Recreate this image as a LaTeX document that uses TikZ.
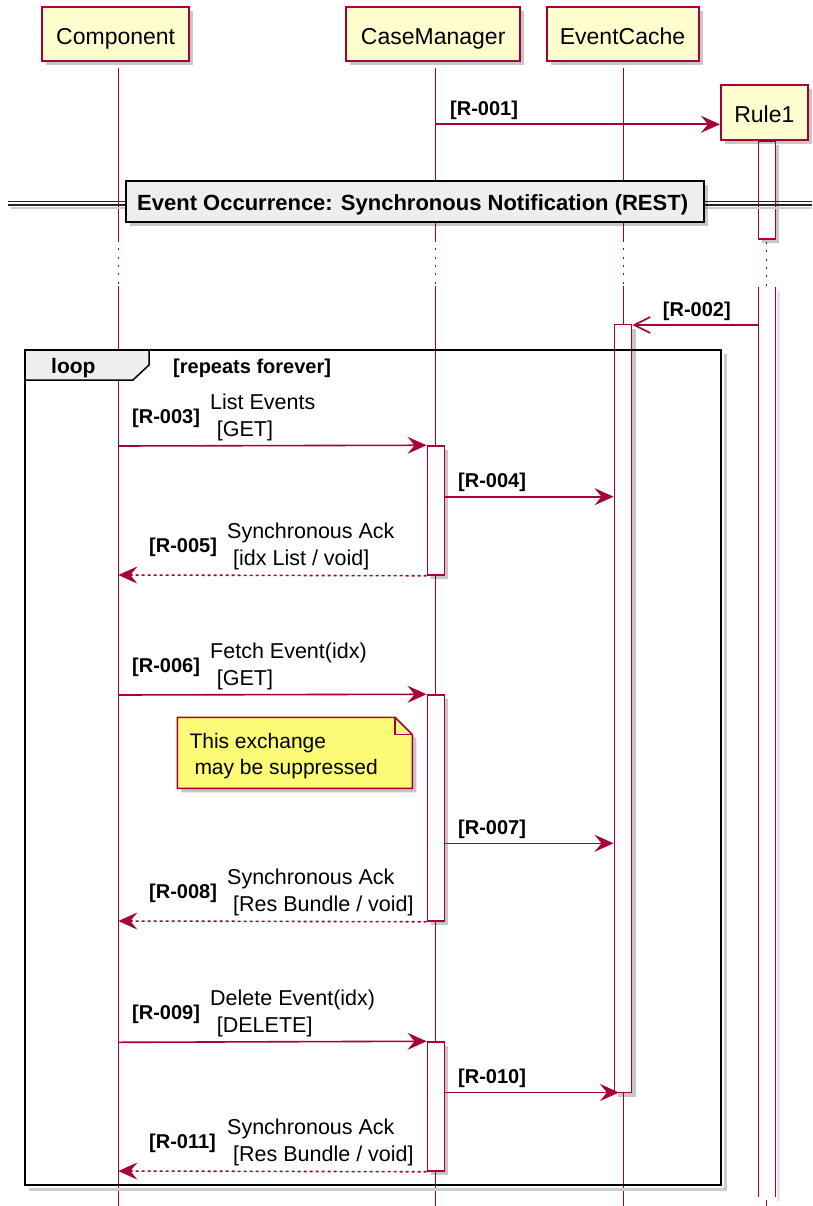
\documentclass[tikz,border=0pt]{standalone}
\usepackage{fontspec}
\setmainfont{Liberation Sans}
\usetikzlibrary{arrows.meta,shadows}
\definecolor{umlred}{HTML}{A80036}
\definecolor{partfill}{HTML}{FEFECE}
\definecolor{notefill}{HTML}{FBFB77}
\definecolor{grpfill}{HTML}{EEEEEE}
\begin{document}
\begin{tikzpicture}[x=1pt,y=-1pt,
  shd/.style={drop shadow={shadow xshift=4pt,shadow yshift=-4pt,fill=black,opacity=0.22}},
  participant/.style={draw=umlred,line width=2pt,fill=partfill,inner sep=0pt,text height=20.6pt,text depth=0pt,font=\fontsize{23}{27}\selectfont,shd},
  life/.style={draw=umlred,line width=1.4pt},
  lifedot/.style={draw=umlred,line width=1.4pt,dash pattern=on 2pt off 6.3pt},
  actbar/.style={draw=umlred,line width=1.5pt,fill=white,minimum width=17pt,inner sep=0pt,shd},
  msg/.style={draw=umlred,line width=1.6pt,-{Stealth[length=19pt,width=17pt,inset=7pt]}},
  ret/.style={msg,dash pattern=on 3pt off 3pt},
  async/.style={draw=umlred,line width=1.6pt,-{Straight Barb[length=16pt,width=16pt]}},
  rlab/.style={anchor=base west,inner sep=0pt,font=\bfseries\fontsize{20}{24}\selectfont},
  mlab/.style={anchor=base west,inner sep=0pt,font=\fontsize{21.5}{25}\selectfont},
]
\useasboundingbox (0,0) rectangle (812,1206);
\fill[white] (0,0) rectangle (812,1206);

% ---------- lifelines
\coordinate (compA) at (118.3,68);  \coordinate (compB) at (118.3,240);
\coordinate (compC) at (118.3,286); \coordinate (compD) at (118.3,1206);
\coordinate (cmA) at (435.7,68);  \coordinate (cmB) at (435.7,240);
\coordinate (cmC) at (435.7,286); \coordinate (cmD) at (435.7,1206);
\coordinate (ecA) at (623.3,68);  \coordinate (ecB) at (623.3,240);
\coordinate (ecC) at (623.3,286); \coordinate (ecD) at (623.3,1206);
\draw[life] (compA) -- (compB); \draw[lifedot] (compB) -- (compC); \draw[life] (compC) -- (compD);
\draw[life] (cmA) -- (cmB); \draw[lifedot] (cmB) -- (cmC); \draw[life] (cmC) -- (cmD);
\draw[life] (ecA) -- (ecB); \draw[lifedot] (ecB) -- (ecC); \draw[life] (ecC) -- (ecD);

% Rule1 lifeline
\node[actbar, minimum height=98pt] (rb1) at (766.8,190) {};
\coordinate (rdA) at (766.7,242); \coordinate (rdB) at (766.7,287);
\draw[lifedot] (rdA) -- (rdB);
\coordinate (rb2tl) at (758.3,287); \coordinate (rb2bl) at (758.3,1197);
\coordinate (rb2tr) at (775.3,287); \coordinate (rb2br) at (775.3,1197);
\fill[black!10] (777,291) rectangle (780,1201);
\fill[white] (rb2tl) rectangle (rb2br);
\draw[life,line width=1.5pt] (rb2tl) -- (rb2bl);
\draw[life,line width=1.5pt] (rb2tr) -- (rb2br);
\coordinate (rdC) at (766.7,1200); \coordinate (rdD) at (766.7,1206);
\draw[life] (rdC) -- (rdD);

% ---------- activation bars
\node[actbar, minimum width=17.4pt, minimum height=768pt] (ecbar) at (623,708.5) {};
\node[actbar, minimum height=129pt] (cmb1) at (435.8,510.5) {};
\node[actbar, minimum height=226pt] (cmb2) at (435.8,808) {};
\node[actbar, minimum height=129pt] (cmb3) at (435.8,1106.5) {};

% ---------- loop frame
\draw[black!20, line width=3pt] (725,354) -- (725,1189) -- (29,1189);
\filldraw[fill=grpfill, draw=black, line width=1.5pt] (25,350) -- (149,350) -- (149,365) -- (133,380) -- (25,380) -- cycle;
\draw[black, line width=2.8pt] (25,350) rectangle (721,1185);
\node[anchor=base west, inner sep=0pt, font=\bfseries\fontsize{21}{25}\selectfont] (looplab) at (51,373) {loop};
\node[anchor=base west, inner sep=0pt, font=\bfseries\fontsize{20}{24}\selectfont] (loopcond) at (173,373) {[repeats forever]};

% ---------- participants
\node[participant, minimum width=147.3pt, minimum height=53.4pt] (comp) at (115.7,34) {Component};
\node[participant, minimum width=174.3pt, minimum height=53.7pt] (cm) at (433.2,34.2) {CaseManager};
\node[participant, minimum width=152pt, minimum height=53.5pt] (ec) at (622.5,34.2) {EventCache};
\node[participant, minimum width=86.7pt, minimum height=55pt] (rule) at (764.3,112.5) {Rule1};

% ---------- messages
\coordinate (m1) at (0,124.3);
\draw[msg] (cmA |- m1) -- (rule.west |- m1);
\node[rlab] (l1) at (450,115.3) {[R-001]};

\coordinate (m2) at (0,325);
\draw[async] (rb2tl |- m2) -- (ecbar.east |- m2);
\node[rlab] (l2) at (662.7,316) {[R-002]};

\coordinate (m3) at (0,446);
\draw[msg] (compA |- m3) -- (cmb1.north west);
\node[rlab] (l3) at (132,423.5) {[R-003]};
\node[mlab] (t3a) at (210,409.5) {List Events};
\node[mlab] (t3b) at (216.7,436.5) {[GET]};

\coordinate (m4) at (0,496.7);
\draw[msg] (cmb1.east |- m4) -- (ecbar.west |- m4);
\node[rlab] (l4) at (458,487.7) {[R-004]};

\coordinate (m5) at (0,575);
\draw[ret] (cmb1.south west) -- (compA |- m5);
\node[rlab] (l5) at (149,552.5) {[R-005]};
\node[mlab] (t5a) at (227,538.5) {Synchronous Ack};
\node[mlab] (t5b) at (233,565.5) {[idx List / void]};

\coordinate (m6) at (0,695);
\draw[msg] (compA |- m6) -- (cmb2.north west);
\node[rlab] (l6) at (132,672.5) {[R-006]};
\node[mlab] (t6a) at (210,658.5) {Fetch Event(idx)};
\node[mlab] (t6b) at (216.7,685.5) {[GET]};

\coordinate (m7) at (0,843.3);
\draw[msg] (cmb2.east |- m7) -- (ecbar.west |- m7);
\node[rlab] (l7) at (458,834.3) {[R-007]};

\coordinate (m8) at (0,921);
\draw[ret] (cmb2.south west) -- (compA |- m8);
\node[rlab] (l8) at (149,898.5) {[R-008]};
\node[mlab] (t8a) at (227,884.5) {Synchronous Ack};
\node[mlab] (t8b) at (233,911.5) {[Res Bundle / void]};

\coordinate (m9) at (0,1042.3);
\draw[msg] (compA |- m9) -- (cmb3.north west);
\node[rlab] (l9) at (132,1019.8) {[R-009]};
\node[mlab] (t9a) at (210,1005.8) {Delete Event(idx)};
\node[mlab] (t9b) at (216.7,1032.8) {[DELETE]};

\coordinate (m10) at (0,1092.5);
\coordinate (m10e) at (619,1092.5);
\draw[msg] (cmb3.east |- m10) -- (m10e);
\node[rlab] (l10) at (458,1083.5) {[R-010]};

\coordinate (m11) at (0,1171);
\draw[ret] (cmb3.south west) -- (compA |- m11);
\node[rlab] (l11) at (149,1148.5) {[R-011]};
\node[mlab] (t11a) at (227,1134.5) {Synchronous Ack};
\node[mlab] (t11b) at (233,1161.5) {[Res Bundle / void]};

% ---------- note
\filldraw[fill=notefill, draw=umlred, line width=1.5pt, shd] (177.3,717.3) -- (395,717.3) -- (412.3,734.6) -- (412.3,788.3) -- (177.3,788.3) -- cycle;
\draw[umlred, line width=1.5pt] (395,717.3) -- (395,734.6) -- (412.3,734.6);
\node[mlab, font=\fontsize{21}{25}\selectfont] (n1) at (189.3,748.3) {This exchange};
\node[mlab, font=\fontsize{21}{25}\selectfont] (n2) at (194.3,774.5) {may be suppressed};

% ---------- divider
\draw[black!20, line width=1.3pt] (11,204.5) -- (812,204.5) (11,208) -- (812,208);
\draw[black!85, line width=1.3pt] (8,201.5) -- (812,201.5) (8,205) -- (812,205);
\node[draw=black, line width=2pt, fill=grpfill, shd, minimum width=578pt, minimum height=40.5pt, inner sep=0pt] (div) at (415,201.5) {};
\node[anchor=base west, inner sep=0pt, font=\bfseries\fontsize{22}{26}\selectfont] (divtext) at (137,210.5) {Event Occurrence: Synchronous Notification (REST)};
\end{tikzpicture}
\end{document}
